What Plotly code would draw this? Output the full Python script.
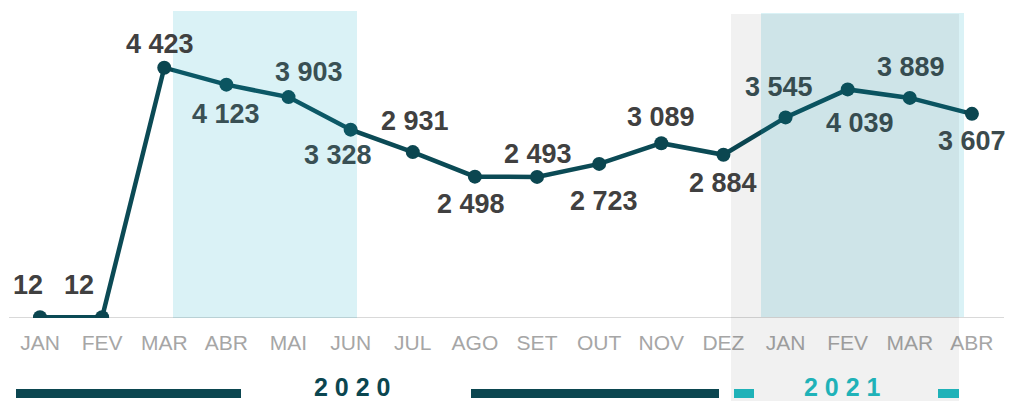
import plotly.graph_objects as go

months = ["JAN", "FEV", "MAR", "ABR", "MAI", "JUN", "JUL", "AGO", "SET", "OUT",
          "NOV", "DEZ", "JAN", "FEV", "MAR", "ABR"]
values = [12, 12, 4423, 4123, 3903, 3328, 2931, 2498, 2493, 2723, 3089, 2884,
          3545, 4039, 3889, 3607]
years = ["2020", "2021"]

# label styling (pixel offsets relative to each point, and colour)
label_dx = [-12, -23, -4, 0, 20, -13, 2, -4, 1, 5, 0, 0, -7, 12, 1, 0]
label_dy = [32, 32, 24, -29, 25, -25, 31, -27, 23, -37, 26, -28, 30, -34, 31, -27]
PLAIN = "#404040"
TINT = "#395054"
TINT2 = "#364c50"
label_col = [PLAIN, PLAIN, PLAIN, TINT, TINT, TINT, PLAIN, PLAIN, PLAIN, PLAIN,
             PLAIN, PLAIN, TINT2, TINT2, TINT2, "#3b4a4d"]

W, H = 1009, 401
PLOT_H = 318
x = list(range(len(months)))
step = 62.13
x0px = 40
xr = [-x0px / step, (W - x0px) / step]
yr = [0, 5619]


def xi(px):
    return (px - x0px) / step


def yp(py):
    return (PLOT_H - py) / PLOT_H


def xp(px):
    return px / W


LINE = "#0b4a55"
DARK = "#0b4650"
CYAN = "#1fb2b8"
FONT = "Liberation Sans, Arial, sans-serif"

fig = go.Figure()
fig.add_trace(go.Scatter(
    x=x, y=values, mode="lines+markers",
    line=dict(color=LINE, width=4.5),
    marker=dict(color=DARK, size=14),
    hoverinfo="skip", showlegend=False,
))

shapes = [
    # baseline
    dict(type="line", xref="x", yref="y", x0=xi(9), x1=xi(1004), y0=0, y1=0,
         line=dict(color="#d9d9d9", width=2), layer="below"),
    # cyan highlight 2020
    dict(type="rect", xref="x", yref="paper", x0=xi(173), x1=xi(357),
         y0=0, y1=yp(11), fillcolor="rgba(15,171,197,0.154)",
         line=dict(width=0), layer="above"),
    # cyan highlight 2021
    dict(type="rect", xref="x", yref="paper", x0=xi(761), x1=xi(964),
         y0=yp(317), y1=yp(13), fillcolor="rgba(15,171,197,0.154)",
         line=dict(width=0), layer="above"),
    # grey band 2021
    dict(type="rect", xref="x", yref="paper", x0=xi(731), x1=xi(959),
         y0=yp(402), y1=yp(14), fillcolor="rgba(0,0,0,0.055)",
         line=dict(width=0), layer="above"),
]

# year bars
for a, b, col in [(16, 241, DARK), (471, 719, DARK), (734, 754, CYAN), (938, 959, CYAN)]:
    shapes.append(dict(type="rect", xref="paper", yref="paper",
                       x0=xp(a), x1=xp(b), y0=yp(398), y1=yp(389),
                       fillcolor=col, line=dict(width=0), layer="above"))

annotations = []
for i, v in enumerate(values):
    txt = f"{v:,}".replace(",", " ")
    annotations.append(dict(
        x=i, y=v, xref="x", yref="y", text=f"<b>{txt}</b>", showarrow=False,
        xshift=label_dx[i], yshift=label_dy[i],
        font=dict(family=FONT, size=27, color=label_col[i]),
        xanchor="center", yanchor="middle",
    ))

for yr_txt, cx, col in [(years[0], 352, DARK), (years[1], 842, CYAN)]:
    annotations.append(dict(
        x=xp(cx), y=yp(387), xref="paper", yref="paper",
        text="<b>" + " ".join(yr_txt) + "</b>", showarrow=False,
        font=dict(family=FONT, size=25, color=col),
        xanchor="center", yanchor="middle",
    ))

fig.update_layout(
    width=W, height=H,
    margin=dict(l=0, r=0, t=0, b=H - PLOT_H, pad=0),
    paper_bgcolor="white", plot_bgcolor="white",
    xaxis=dict(range=xr, tickmode="array", tickvals=x, ticktext=months,
               showgrid=False, zeroline=False, showline=False, ticks="",
               tickfont=dict(family=FONT, size=21, color="#a6a6a6"),
               ticklabelstandoff=10, fixedrange=True),
    yaxis=dict(range=yr, visible=False, showgrid=False, zeroline=False,
               fixedrange=True),
    shapes=shapes,
    annotations=annotations,
    showlegend=False,
)

fig.write_html(
    "out.html",
    config={"displayModeBar": False, "responsive": False},
    post_script="document.body.style.margin='0';document.body.style.padding='0';"
                "document.body.style.overflow='hidden';",
)
